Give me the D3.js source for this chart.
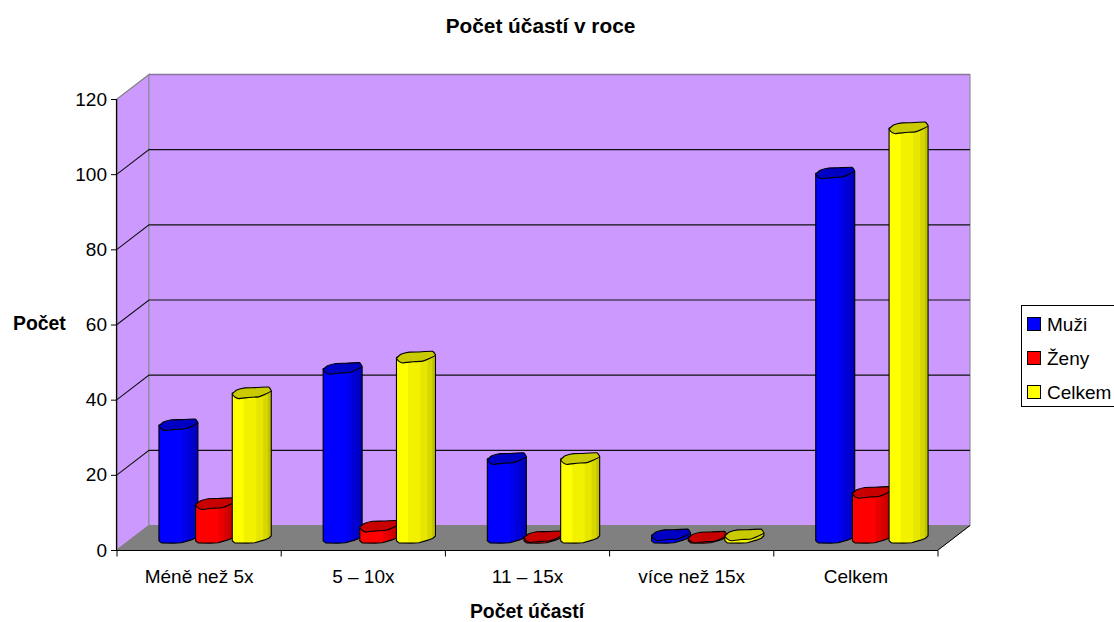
<!DOCTYPE html>
<html><head><meta charset="utf-8">
<script src="https://cdn.jsdelivr.net/npm/d3@7/dist/d3.min.js"></script>
<style>html,body{margin:0;padding:0;background:#fff;overflow:hidden}svg{display:block}text{font-family:"Liberation Sans",Arial,sans-serif;fill:#000}</style>
</head><body><svg id="c" width="1114" height="622"></svg>
<script>
const categories = ["Méně než 5x","5 – 10x","11 – 15x","více než 15x","Celkem"];
const seriesNames = ["Muži","Ženy","Celkem"];
const muzi = [30,45,21,0.7,97];
const zeny = [9,3,0.2,0.1,12];
const celkem = [38.5,48,21,0.7,109];
const seriesValues = [muzi,zeny,celkem];
const seriesFill = ["#0000ff","#ff0000","#ffff00"];
const seriesTop = ["#0000c4","#c80000","#caca00"];
const yTicks = [0,20,40,60,80,100,120];

const svg = d3.select("#c");
const DX=32, DY=-24.5;
const x = d3.scaleBand().domain(categories).range([117,938]);
const y = d3.scaleLinear().domain([0,120]).range([550,99]);
const inner = d3.scaleBand().domain(seriesNames).range([-55,55]);
const line = d3.line();
const x0=117,x1=938,y0=y(0),yT=y(120);

// softly stepped gradients: facets of each cylinder
const defs = svg.append("defs");
const facetsCool = [[0,1],[0.58,0.92],[0.72,0.84],[0.84,0.78],[0.93,0.7]];
const facetsWarm = [[0,1],[0.28,0.95],[0.6,0.9],[0.78,0.84],[0.9,0.76]];
const facetSets = [facetsCool,facetsCool,facetsWarm];
seriesNames.forEach((s,i)=>{
  const g = defs.append("linearGradient").attr("id","g"+i).attr("x1",0).attr("x2",1).attr("y1",0).attr("y2",0);
  const base=d3.color(seriesFill[i]);
  const shade=k=>d3.rgb(base.r*k,base.g*k,base.b*k).formatHex();
  facetSets[i].forEach(([o,k],j)=>{
    if(j>0) g.append("stop").attr("offset",o).attr("stop-color",shade(facetSets[i][j-1][1]));
    g.append("stop").attr("offset",o+(j>0?0.03:0)).attr("stop-color",shade(k));
  });
  g.append("stop").attr("offset",1).attr("stop-color",shade(facetSets[i][facetSets[i].length-1][1]));
});

// walls + floor
svg.append("path").attr("d",line([[x0,y0],[x0+DX,y0+DY],[x0+DX,yT+DY],[x0,yT]])+"Z").attr("fill","#cc99ff").attr("stroke","#808080").attr("stroke-width",1.2);
svg.append("path").attr("d",line([[x0+DX,y0+DY],[x1+DX,y0+DY],[x1+DX,yT+DY],[x0+DX,yT+DY]])+"Z").attr("fill","#cc99ff").attr("stroke","#8f8f9f").attr("stroke-width",1.2);
svg.append("path").attr("d",line([[x0+DX,yT+DY],[x1+DX,yT+DY]])).attr("stroke","#86789a").attr("stroke-width",1.6);
svg.append("path").attr("d",line([[x0,y0],[x0+DX,y0+DY],[x1+DX,y0+DY],[x1,y0]])+"Z").attr("fill","#808080").attr("stroke","#808080");

// grid
const gridTicks = yTicks.filter(t=>t>0&&t<120);
svg.append("g").selectAll("path").data(gridTicks).join("path")
  .attr("d",t=>line([[x0,y(t)],[x0+DX,y(t)+DY],[x1+DX,y(t)+DY]]))
  .attr("fill","none").attr("stroke","#111").attr("stroke-width",1.1);
svg.append("path").attr("d",line([[x1,y0],[x1+DX,y0+DY]])).attr("stroke","#000").attr("fill","none");

// axes
const ax = svg.append("g").attr("transform",`translate(${x0-0.5},0)`).call(d3.axisLeft(y).tickValues(yTicks).tickSize(5.5).tickPadding(4));
ax.selectAll("text").attr("font-size",19).attr("font-family",'"Liberation Sans"');
ax.select(".domain").attr("stroke","#000").attr("stroke-width",1.2).attr("d",`M0,${yT}V${y0}`);
const bx = svg.append("g").attr("transform",`translate(0,${y0+0.5})`).call(d3.axisBottom(x).tickSize(6).tickPadding(13));
bx.select(".domain").attr("stroke","#000").attr("stroke-width",1.2).attr("d",`M${x0-5},0H${x1}`);
bx.selectAll(".tick line").remove();
bx.selectAll("text").attr("font-size",19).attr("font-family",'"Liberation Sans"');
bx.selectAll("line.t").data(d3.range(6)).join("line").attr("class","t")
  .attr("x1",i=>x0+i*x.step()).attr("x2",i=>x0+i*x.step()).attr("y1",0).attr("y2",6).attr("stroke","#000");

// bars: faceted cylinders
const shape = [[-19.5,0.8],[-15,-3],[-6.7,-5.2],[3,-5.4],[16.7,-6],[19.5,-2.2],[14,1],[6.7,3.8],[-3,4.4],[-13,5.6],[-17,4]];
const curve = d3.line().curve(d3.curveCardinalClosed.tension(0.7));
const midDepth = DY/2;
categories.forEach((c,ci)=>{
  seriesNames.forEach((s,si)=>{
    const v = seriesValues[si][ci];
    const cx = x(c)+x.bandwidth()/2+DX/2+inner(s)+inner.bandwidth()/2;
    const yb = y(0)+midDepth, yt = y(v)+midDepth;
    const g = svg.append("g");
    const body = [[cx-19.5,yt],[cx-19.5,yb+3],[cx-17,yb+5.2],[cx-5,yb+5.4],[cx+3,yb+5],[cx+12,yb+2.4],[cx+17,yb+0.6],[cx+19.5,yb-2],[cx+19.5,yt-2]];
    g.append("path").attr("d",line(body)+"Z").attr("fill",`url(#g${si})`).attr("stroke","#000").attr("stroke-width",1.1).attr("stroke-linejoin","round");
    g.append("path").attr("d",curve(shape.map(([a,b])=>[cx+a,yt+b]))).attr("fill",seriesTop[si]).attr("stroke","#000").attr("stroke-width",1.1);
  });
});

// titles
svg.append("text").attr("x",540.5).attr("y",33).attr("text-anchor","middle").attr("font-size",20.8).attr("font-weight","bold").text("Počet účastí v roce");
svg.append("text").attr("x",13).attr("y",330).attr("font-size",19.4).attr("font-weight","bold").text("Počet");
svg.append("text").attr("x",527).attr("y",618).attr("text-anchor","middle").attr("font-size",19.4).attr("font-weight","bold").text("Počet účastí");

// legend
svg.append("rect").attr("x",1021.5).attr("y",305.5).attr("width",120).attr("height",101).attr("fill","#fff").attr("stroke","#000");
const rowY = d3.scalePoint().domain(seriesNames).range([324,392]);
seriesNames.forEach((s,i)=>{
  svg.append("rect").attr("x",1027.5).attr("y",rowY(s)-6.5).attr("width",13).attr("height",13).attr("fill",seriesFill[i]).attr("stroke","#000").attr("stroke-width",1);
  svg.append("text").attr("x",1047).attr("y",rowY(s)+7).attr("font-size",19).text(s);
});
</script></body></html>
